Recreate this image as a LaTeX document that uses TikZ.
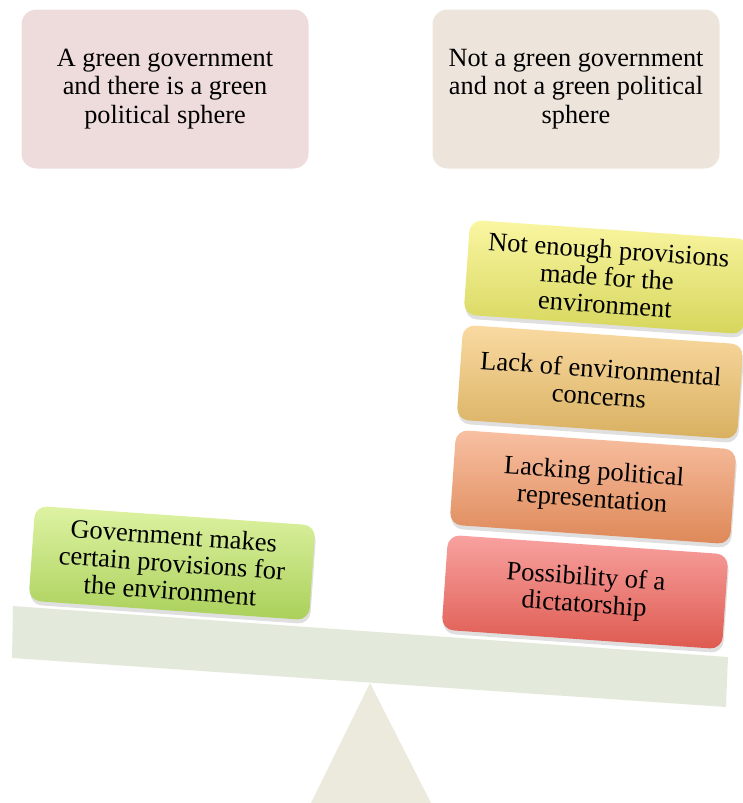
\documentclass[tikz,border=0pt]{standalone}
\usepackage{fontspec}
\setmainfont{Liberation Serif}
\newfontfamily\timesfont{Liberation Serif}
\usetikzlibrary{shadows}
\definecolor{pinkbox}{RGB}{238,220,220}
\definecolor{beigebox}{RGB}{237,228,220}
\definecolor{beamgreen}{RGB}{227,234,219}
\definecolor{fulcrumgrey}{RGB}{236,234,220}
\definecolor{greentop}{RGB}{222,243,163}
\definecolor{greenbot}{RGB}{170,208,90}
\definecolor{redtop}{RGB}{248,162,160}
\definecolor{redbot}{RGB}{222,90,80}
\definecolor{salmontop}{RGB}{248,192,162}
\definecolor{salmonbot}{RGB}{222,136,88}
\definecolor{orangetop}{RGB}{250,218,162}
\definecolor{orangebot}{RGB}{216,176,96}
\definecolor{yellowtop}{RGB}{250,246,162}
\definecolor{yellowbot}{RGB}{214,214,92}
\tikzstyle{node_top} = [rectangle, rounded corners=15pt, minimum width=287pt, minimum height=159pt, align=center, font=\timesfont\fontsize{26.3}{28.5}\selectfont]
\tikzstyle{node_block} = [rectangle, rounded corners=12pt, minimum width=281pt, minimum height=95pt, align=center, rotate=-4, font=\timesfont\fontsize{26.5}{27.5}\selectfont, drop shadow={shadow xshift=1pt, shadow yshift=-4pt, opacity=0.25}]
\tikzstyle{beam} = [fill=beamgreen]
\tikzstyle{fulcrum} = [fill=fulcrumgrey]

\begin{document}
\begin{tikzpicture}[x=1pt, y=-1pt]
	\useasboundingbox (0,0) rectangle (742,803);
	% seesaw
	\fill[fulcrum] (311,803) -- (370,683) -- (431,803) -- cycle;
	\fill[beam] (13,606) -- (728,657) -- (726,707) -- (12,658) -- cycle;
	% headings
	\node (A) at (165,89) [node_top, fill=pinkbox] {A green government\\and there is a green\\political sphere};
	\node (B) at (576,89) [node_top, fill=beigebox] {Not a green government\\and not a green political\\sphere};
	% weights
	\node (C) at (172,563) [node_block, top color=greentop, bottom color=greenbot] {Government makes\\certain provisions for\\the environment};
	\node (D) at (585,592) [node_block, top color=redtop, bottom color=redbot] {Possibility of a\\dictatorship};
	\node (E) at (593,487) [node_block, top color=salmontop, bottom color=salmonbot] {Lacking political\\representation};
	\node (F) at (600,382) [node_block, top color=orangetop, bottom color=orangebot] {Lack of environmental\\concerns};
	\node (G) at (607,277) [node_block, top color=yellowtop, bottom color=yellowbot] {Not enough provisions\\made for the\\environment};
\end{tikzpicture}
\end{document}
